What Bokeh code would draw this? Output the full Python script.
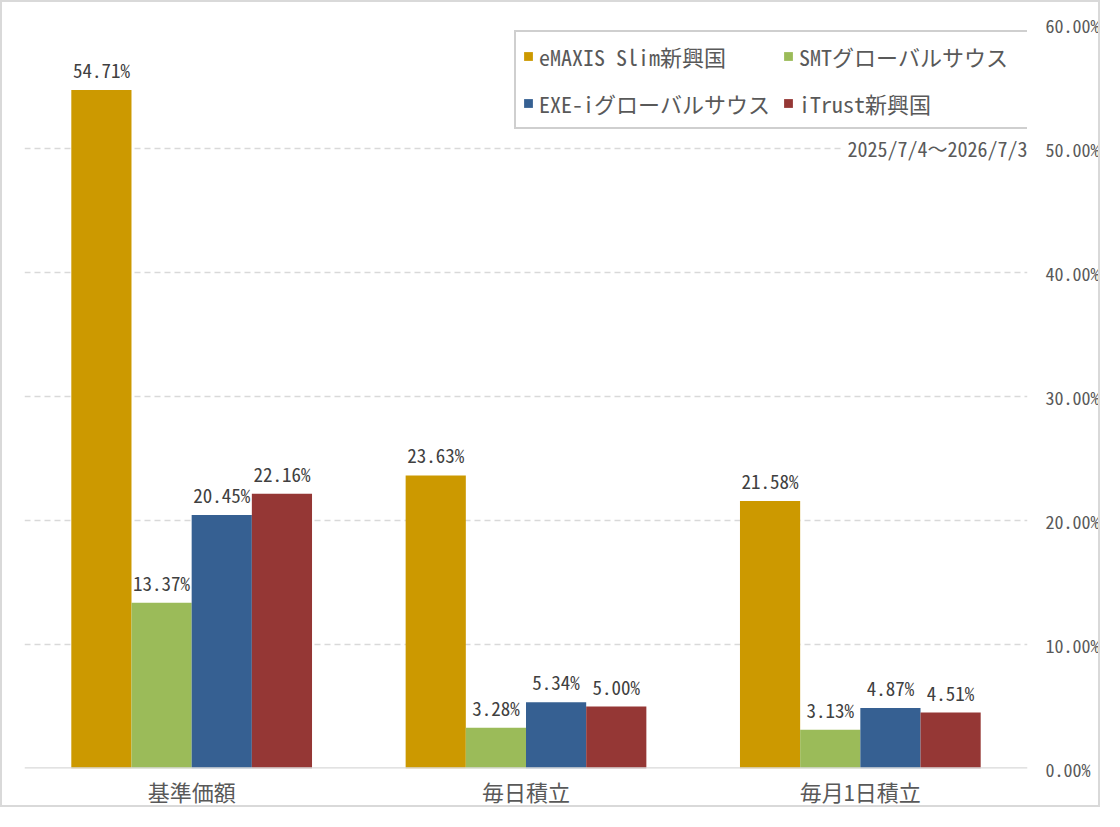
from bokeh.plotting import figure
from bokeh.models import (ColumnDataSource, FactorRange, Range1d, Legend, LegendItem,
                          Label, LabelSet, PrintfTickFormatter, FixedTicker, Span)
from bokeh.transform import dodge
from bokeh.core.properties import value
from bokeh.embed import file_html
from bokeh.resources import INLINE

# ---- data ----
categories = ["基準価額", "毎日積立", "毎月1日積立"]
series_names = ["eMAXIS Slim新興国", "SMTグローバルサウス", "EXE-iグローバルサウス", "iTrust新興国"]
emaxis = [54.71, 23.63, 21.58]
smt = [13.37, 3.28, 3.13]
exei = [20.45, 5.34, 4.87]
itrust = [22.16, 5.00, 4.51]
y_ticks = [0, 10, 20, 30, 40, 50, 60]
period_label = "2025/7/4～2026/7/3"

series_values = [emaxis, smt, exei, itrust]
colors = ["#CC9900", "#9BBB59", "#366092", "#953735"]
offsets = [-0.27, -0.09, 0.09, 0.27]
bar_width = 0.18

FONT = "'Noto Sans Mono CJK JP', 'Noto Sans CJK JP', sans-serif"
TEXT = "#595959"
GRID = "#d9d9d9"

data = {"cats": categories}
for i, vals in enumerate(series_values):
    data[f"s{i}"] = vals
    data[f"l{i}"] = [f"{v:.2f}%" for v in vals]
source = ColumnDataSource(data)

p = figure(
    x_range=FactorRange(*categories),
    y_range=Range1d(0, 60),
    width=1100, height=807,
    output_backend="svg", toolbar_location=None,
    y_axis_location="right",
    min_border_left=22, min_border_right=70,
    min_border_top=22, min_border_bottom=30,
    outline_line_color=None,
    background_fill_color="white", border_fill_color="white",
)
p.styles = {"border": "2px solid #d9d9d9"}

# y axis (right)
p.yaxis.ticker = FixedTicker(ticks=y_ticks)
p.yaxis.formatter = PrintfTickFormatter(format="%.2f%%")
p.yaxis.axis_line_color = None
p.yaxis.major_tick_line_color = None
p.yaxis.minor_tick_line_color = None
p.yaxis.major_label_standoff = 12
p.yaxis.major_label_text_font = FONT
p.yaxis.major_label_text_font_size = "18px"
p.yaxis.major_label_text_color = TEXT

# x axis: baseline + category names
p.xaxis.axis_line_color = None
p.xaxis.major_tick_line_color = None
p.xaxis.minor_tick_line_color = None
p.xaxis.major_label_standoff = 0
p.xaxis.major_label_text_font = FONT
p.xaxis.major_label_text_font_size = "22px"
p.xaxis.major_label_text_color = TEXT
p.add_layout(Span(location=0, dimension="width", line_color=GRID, line_width=2.5))

p.xgrid.grid_line_color = None
p.ygrid.grid_line_color = GRID
p.ygrid.grid_line_width = 1.5
p.ygrid.grid_line_dash = "6 4"

legend_items = []
for i, name in enumerate(series_names):
    p.vbar(x=dodge("cats", offsets[i], range=p.x_range), top=f"s{i}", width=bar_width,
           source=source, fill_color=colors[i], line_color=None)
    p.add_layout(LabelSet(x=dodge("cats", offsets[i], range=p.x_range), y=f"s{i}", text=f"l{i}",
                          source=source, text_align="center", text_baseline="alphabetic",
                          y_offset=12, text_font=value(FONT), text_font_size="19px",
                          text_color="#404040"))
    # legend proxy (no visible point)
    proxy = p.scatter(x=[categories[0]], y=[float("nan")], marker="square", size=10,
                      fill_color=colors[i], line_color=None)
    legend_items.append(LegendItem(label=name, renderers=[proxy]))

legend = Legend(items=legend_items, location=(490, 639), orientation="horizontal", ncols=2,
                glyph_width=22, glyph_height=46, label_standoff=0, label_width=237,
                spacing=1, padding=1, margin=0,
                label_text_font=FONT, label_text_font_size="22px", label_text_color=TEXT,
                border_line_color="#a0a0a0", border_line_width=2,
                background_fill_color="white", background_fill_alpha=1.0)
p.add_layout(legend)

p.add_layout(Label(x=3.0, y=50, text=period_label, text_align="right", text_baseline="middle",
                   x_offset=6, text_font=FONT, text_font_size="20px", text_color=TEXT,
                   background_fill_color="white", padding=6))

open("out.html", "w").write(file_html(p, INLINE))
